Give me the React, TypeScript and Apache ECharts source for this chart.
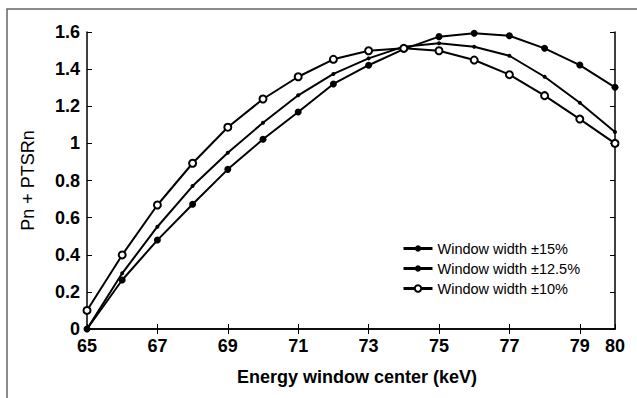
import React, { useEffect, useRef } from "react";
import * as echarts from "echarts";

const energies = [65, 66, 67, 68, 69, 70, 71, 72, 73, 74, 75, 76, 77, 78, 79, 80];
const w15 = [0, 0.264, 0.479, 0.672, 0.86, 1.022, 1.169, 1.32, 1.421, 1.508, 1.575, 1.593, 1.58, 1.512, 1.422, 1.302];
const w125 = [0, 0.3, 0.551, 0.77, 0.95, 1.111, 1.259, 1.374, 1.458, 1.521, 1.539, 1.521, 1.472, 1.359, 1.219, 1.061];
const w10 = [0.1, 0.399, 0.668, 0.893, 1.087, 1.239, 1.359, 1.453, 1.499, 1.512, 1.499, 1.449, 1.37, 1.257, 1.131, 1.0];
const xTickLabels = [65, 67, 69, 71, 73, 75, 77, 79, 80];
const xTopTicks = [67, 69, 71, 73, 75, 77, 79];
const seriesNames = ["Window width \u00b115%", "Window width \u00b112.5%", "Window width \u00b110%"];

const FONT = "'Liberation Sans', Arial, sans-serif";

export default function App() {
  const ref = useRef<HTMLDivElement>(null);
  useEffect(() => {
    if (!ref.current) return;
    const chart = echarts.init(ref.current, null, { renderer: "svg" });
    const pair = (arr: number[]) => energies.map((e, i) => [e, arr[i]]);
    const lineStyle = { color: "#000", width: 2 };
    chart.setOption({
      animation: false,
      backgroundColor: "#fff",
      textStyle: { fontFamily: FONT },
      graphic: [
        {
          type: "rect",
          shape: { x: 7, y: 9, width: 640, height: 400 },
          style: { fill: "none", stroke: "#666", lineWidth: 1.5 },
          silent: true,
        },
      ],
      grid: { left: 87, top: 32, right: 22, bottom: 69 },
      legend: {
        orient: "vertical",
        left: 397,
        top: 236,
        itemWidth: 29,
        itemHeight: 8,
        itemGap: 5,
        lineStyle: { width: 3 },
        textStyle: { fontFamily: FONT, fontSize: 14.5, color: "#000", lineHeight: 14 },
        data: seriesNames,
      },
      xAxis: [
        {
          type: "value",
          min: 65,
          max: 80,
          name: "Energy window center (keV)",
          nameLocation: "middle",
          nameGap: 39,
          nameTextStyle: { fontFamily: FONT, fontSize: 18, fontWeight: "bold", color: "#000", padding: [0, 0, 0, 12] },
          axisLine: { lineStyle: { color: "#000", width: 1.5 } },
          axisTick: { inside: true, length: 5, customValues: xTickLabels, lineStyle: { color: "#000" } },
          axisLabel: { customValues: xTickLabels, fontFamily: FONT, fontSize: 18, fontWeight: "bold", color: "#000", margin: 8 },
          splitLine: { show: false },
        },
        {
          type: "value",
          position: "top",
          min: 65,
          max: 80,
          axisLine: { lineStyle: { color: "#000", width: 1.5 } },
          axisTick: { inside: true, length: 5, customValues: xTopTicks, lineStyle: { color: "#000" } },
          axisLabel: { show: false },
          splitLine: { show: false },
        },
      ],
      yAxis: [
        {
          type: "value",
          min: 0,
          max: 1.6,
          interval: 0.2,
          name: "Pn + PTSRn",
          nameLocation: "middle",
          nameGap: 50,
          nameTextStyle: { fontFamily: FONT, fontSize: 18, color: "#000" },
          axisLine: { show: true, lineStyle: { color: "#000", width: 1.5 } },
          axisTick: { show: true, inside: true, length: 5, lineStyle: { color: "#000" } },
          axisLabel: { fontFamily: FONT, fontSize: 18, fontWeight: "bold", color: "#000", margin: 7 },
          splitLine: { show: false },
        },
        {
          type: "value",
          position: "right",
          min: 0,
          max: 1.6,
          interval: 0.2,
          axisLine: { show: true, lineStyle: { color: "#000", width: 1.5 } },
          axisTick: { show: true, inside: true, length: 5, lineStyle: { color: "#000" } },
          axisLabel: { show: false },
          splitLine: { show: false },
        },
      ],
      series: [
        {
          name: seriesNames[0],
          type: "line",
          data: pair(w15),
          symbol: "circle",
          symbolSize: 7,
          itemStyle: { color: "#000" },
          lineStyle,
        },
        {
          name: seriesNames[1],
          type: "line",
          data: pair(w125),
          symbol: "circle",
          symbolSize: 4,
          itemStyle: { color: "#000" },
          lineStyle,
        },
        {
          name: seriesNames[2],
          type: "line",
          data: pair(w10),
          symbol: "emptyCircle",
          symbolSize: 7,
          itemStyle: { color: "#000", borderColor: "#000", borderWidth: 2.5 },
          lineStyle,
        },
      ],
    });
    return () => chart.dispose();
  }, []);
  return <div ref={ref} style={{ position: "absolute", left: 0, top: 0, width: 637, height: 398 }} />;
}
